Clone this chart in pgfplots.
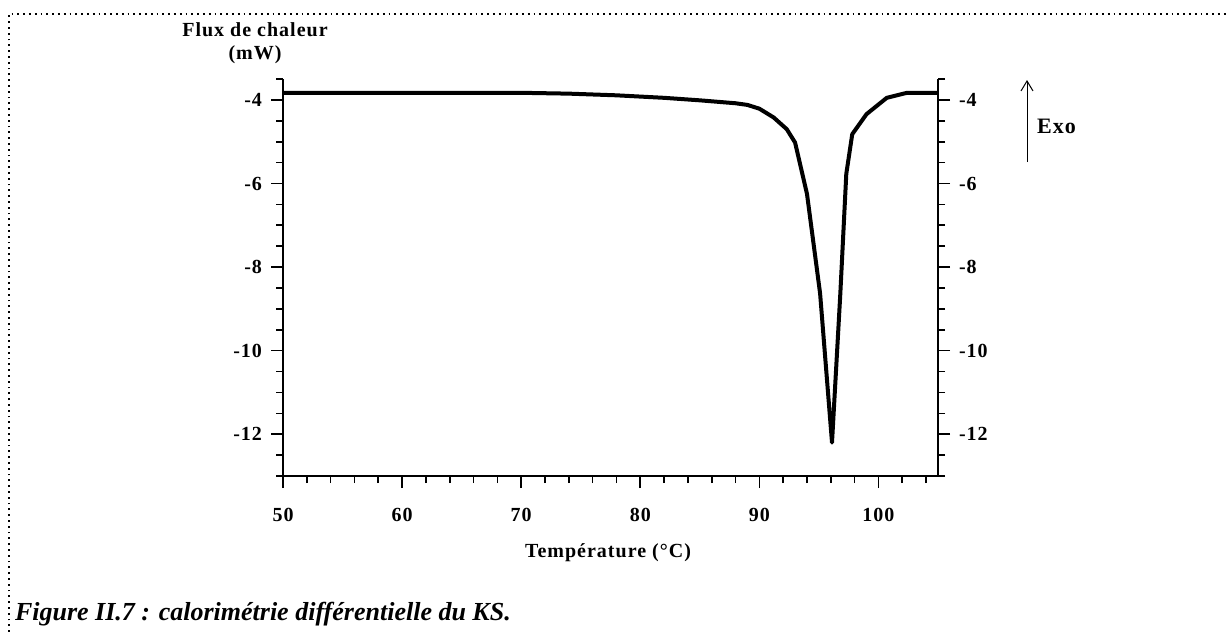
\documentclass[border=0pt]{standalone}
\usepackage{fontspec}
\setmainfont{Liberation Serif}
\newfontfamily\ls{Liberation Serif}[LetterSpace=5]
\usepackage{pgfplots}
\pgfplotsset{compat=1.18}
\usetikzlibrary{arrows.meta}

\pgfplotsset{
  dsc/.style={
    scale only axis,
    width=327.5pt, height=198.5pt,
    xmin=50, xmax=105,
    ymin=-13, ymax=-3.5,
    axis line style={line width=0.9pt},
    tick style={black, line width=0.8pt},
    tick align=outside,
    major tick length=6pt,
    minor tick length=3.5pt,
    ytick={-12,-10,-8,-6,-4},
    minor ytick={-13,-12.5,...,-3.5},
    font=\fontsize{10}{11}\ls\bfseries,
  },
}

\begin{document}
\begin{tikzpicture}
\useasboundingbox (0,0) rectangle (614pt,-316pt);
% cadre pointille
\draw[line width=0.9pt, dotted] (4.5pt,-316pt) -- (4.5pt,-7pt) -- (614pt,-7pt);

\begin{axis}[dsc,
  at={(141.5pt,-238pt)}, anchor=south west,
  axis x line*=bottom, axis y line*=left,
  xtick={50,60,70,80,90,100},
  minor xtick={50,52,...,104},
  xticklabels={50,60,70,80,90,100},
  yticklabels={-12,-10,-8,-6,-4},
  xticklabel style={yshift=-6.5pt},
  yticklabel style={xshift=-1pt},
]
\addplot[black, line width=2pt, line join=round] coordinates {
  (50,-3.83) (60,-3.83) (70,-3.83) (74,-3.85) (78,-3.89) (82,-3.95)
  (85,-4.01) (88,-4.08) (89,-4.12) (90,-4.21) (91.2,-4.42) (92.3,-4.70)
  (93.0,-5.02) (94.0,-6.25) (95.1,-8.63) (96.1,-12.2) (96.8,-8.63)
  (97.3,-5.77) (97.8,-4.82) (99.0,-4.34) (100.7,-3.95) (102.4,-3.83)
  (105,-3.83)
};
\end{axis}

\begin{axis}[dsc,
  at={(141.5pt,-238pt)}, anchor=south west,
  axis x line=none, axis y line*=right,
  yticklabels={-12,-10,-8,-6,-4},
  yticklabel style={xshift=1pt},
]
\end{axis}

% titres
\node[font=\fontsize{10}{11}\ls\bfseries] at (127.5pt,-15pt) {Flux de chaleur};
\node[font=\fontsize{10}{11}\ls\bfseries] at (127.5pt,-27.5pt) {(mW)};
\node[font=\fontsize{10}{11}\ls\bfseries] at (304pt,-276.5pt) {Température (°C)};
% fleche Exo
\draw[line width=0.5pt, -{Straight Barb[length=5pt,width=6pt]}] (513.5pt,-81pt) -- (513.5pt,-40pt);
\node[font=\fontsize{11}{12}\ls\bfseries, anchor=west] at (515pt,-63pt) {Exo};
% legende
\node[font=\fontsize{13}{15}\selectfont\bfseries\itshape, anchor=west] at (4pt,-307pt) {Figure II.7 : calorimétrie différentielle du KS.};
\end{tikzpicture}
\end{document}
